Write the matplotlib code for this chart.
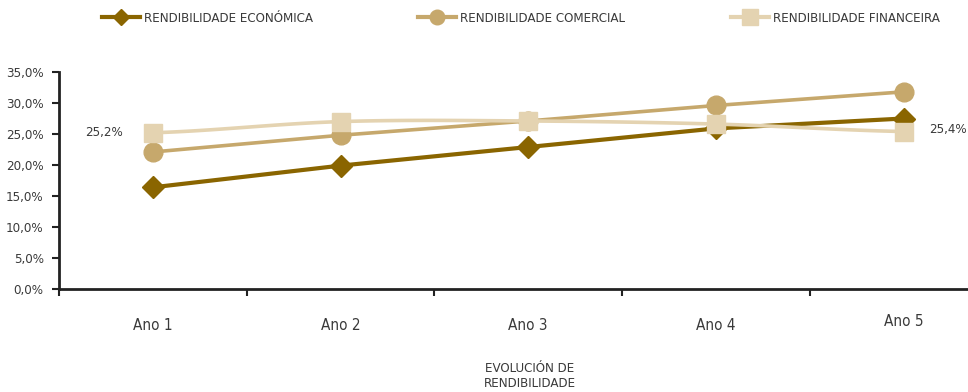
import numpy as np
import matplotlib
matplotlib.use("Agg")
import matplotlib.pyplot as plt
from matplotlib.lines import Line2D
from matplotlib import font_manager as fm

fam = 'Liberation Sans'
stretch = 'normal'
for cand in ['Liberation Sans Narrow', 'DejaVu Sans']:
    try:
        path = fm.findfont(fm.FontProperties(family=cand, stretch='condensed'), fallback_to_default=False)
        if 'Narrow' in path or 'Condensed' in path:
            fam = fm.FontProperties(fname=path).get_name()
            stretch = 'condensed'
            break
    except Exception:
        pass
plt.rcParams['font.family'] = [fam, 'DejaVu Sans']
plt.rcParams['font.stretch'] = stretch

categories = ["Ano 1", "Ano 2", "Ano 3", "Ano 4", "Ano 5"]
economica = [16.4, 19.9, 22.9, 25.9, 27.5]
comercial = [22.1, 24.8, 27.1, 29.6, 31.8]
financiera = [25.2, 27.0, 27.1, 26.6, 25.4]
series_names = ["RENDIBILIDADE ECONÓMICA", "RENDIBILIDADE COMERCIAL", "RENDIBILIDADE FINANCEIRA"]
y_ticks = [0, 5, 10, 15, 20, 25, 30, 35]
axis_title = "EVOLUCIÓN DE\nRENDIBILIDADE"

c_eco = "#8a6500"
c_com = "#c6a86c"
c_fin = "#e4d3b1"
txt = "#3a3a3a"

fig = plt.figure(figsize=(9.68, 3.92), dpi=100)
W, H = 968, 392
x0, x1 = 59, 968
yb, yt = 289, 72
ax = fig.add_axes([x0 / W, (H - yb) / H, (x1 - x0) / W, (yb - yt) / H])
step = 187.7
ax.set_xlim(0.5, 0.5 + (x1 - x0) / step)
ax.set_ylim(0, 35)

x = np.arange(1, len(categories) + 1)


def catmull(xs, ys, n=30):
    xs = np.asarray(xs, float); ys = np.asarray(ys, float)
    px = np.concatenate([[2 * xs[0] - xs[1]], xs, [2 * xs[-1] - xs[-2]]])
    py = np.concatenate([[ys[0]], ys, [ys[-1]]])
    outx, outy = [], []
    for i in range(1, len(px) - 2):
        p0, p1, p2, p3 = (np.array([px[j], py[j]]) for j in (i - 1, i, i + 1, i + 2))
        c1 = p1 + (p2 - p0) / 6
        c2 = p2 - (p3 - p1) / 6
        t = np.linspace(0, 1, n)[:, None]
        pts = (1 - t) ** 3 * p1 + 3 * (1 - t) ** 2 * t * c1 + 3 * (1 - t) * t ** 2 * c2 + t ** 3 * p2
        outx.extend(pts[:, 0]); outy.extend(pts[:, 1])
    return np.array(outx), np.array(outy)


ax.plot(x, economica, color=c_eco, lw=3, marker='D', ms=11, zorder=3, clip_on=False)
ax.plot(x, comercial, color=c_com, lw=2.6, marker='o', ms=13.5, zorder=4, clip_on=False)
sx, sy = catmull(x, financiera)
ax.plot(sx, sy, color=c_fin, lw=2.6, zorder=5, clip_on=False)
ax.plot(x, financiera, ls='none', color=c_fin, marker='s', ms=13, zorder=5, clip_on=False)

fs = 9.5
ax.text(x[0] - 0.16, financiera[0], f"{financiera[0]:.1f}%".replace('.', ','),
        ha='right', va='center', fontsize=fs, color=txt)
ax.text(x[-1] + 0.135, financiera[-1] + 0.3, f"{financiera[-1]:.1f}%".replace('.', ','),
        ha='left', va='center', fontsize=fs, color=txt)

ax.set_yticks(y_ticks)
ax.set_yticklabels([f"{v:.1f}%".replace('.', ',') for v in y_ticks], fontsize=fs, color=txt)
ax.set_xticks(np.arange(0.5, 5.0, 1.0))
ax.set_xticklabels([])
ax.tick_params(axis='both', direction='out', length=5, width=1.5, color='#222222')
ax.tick_params(axis='y', pad=6)
for i, c in enumerate(categories):
    ax.text(x[i], -5.9 + (0.6 if i == 4 else 0), c, ha='center', va='center', fontsize=11, color=txt)

for s in ['top', 'right']:
    ax.spines[s].set_visible(False)
for s in ['left', 'bottom']:
    ax.spines[s].set_linewidth(2)
    ax.spines[s].set_color('#222222')

fig.text(530 / W, 1 - 376 / H, axis_title, ha='center', va='center', fontsize=fs, color=txt, linespacing=1.2)

handles = [
    Line2D([], [], color=c_eco, lw=3, marker='D', ms=8.5),
    Line2D([], [], color=c_com, lw=3, marker='o', ms=10.5),
    Line2D([], [], color=c_fin, lw=3, marker='s', ms=11.5),
]
positions = [102, 418, 731]
for h, name, px in zip(handles, series_names, positions):
    fig.legend([h], [name], loc='center left', bbox_to_anchor=(px / W, 1 - 18 / H),
               frameon=False, fontsize=fs, handlelength=2.85, handletextpad=0.3,
               borderpad=0, borderaxespad=0, labelcolor=txt)

fig.savefig("out.png", dpi=100)
